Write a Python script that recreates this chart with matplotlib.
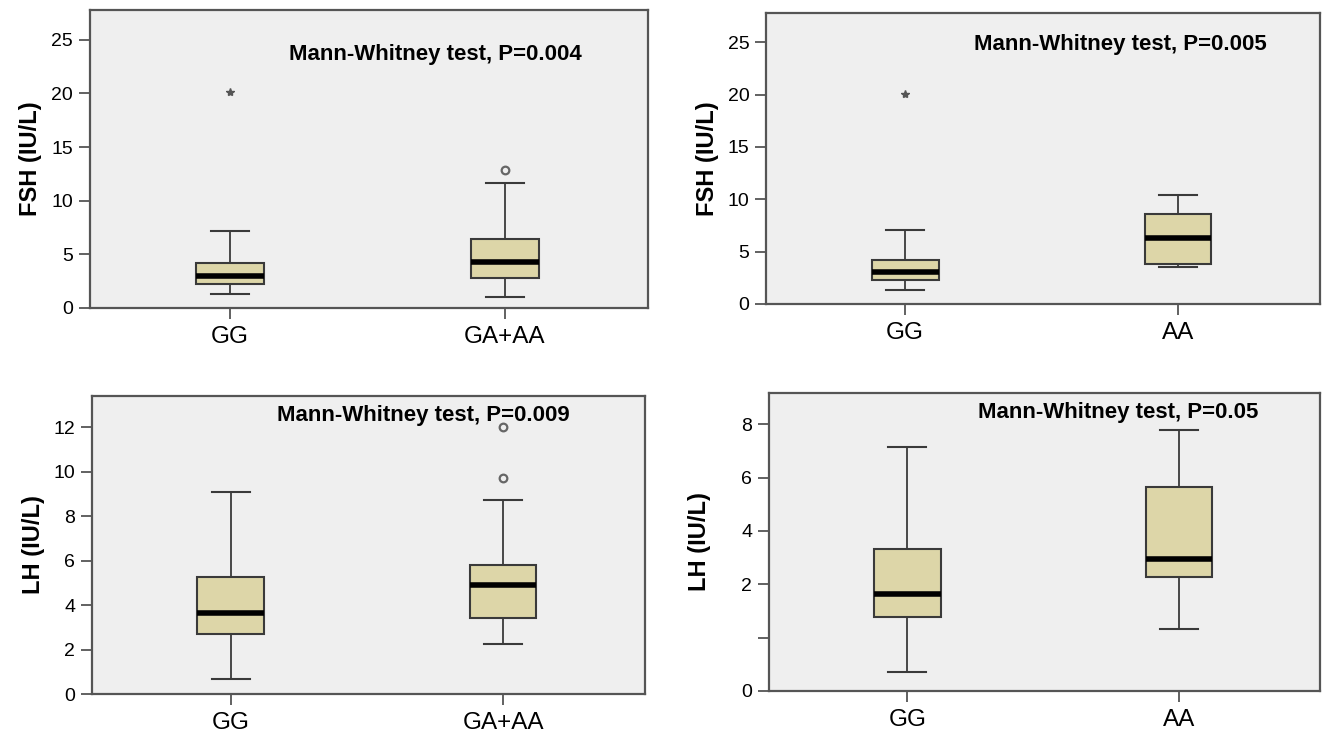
import numpy as np
import matplotlib
matplotlib.use("Agg")
import matplotlib.pyplot as plt
from matplotlib import font_manager

# pick a narrow sans if there is one
names = {f.name for f in font_manager.fontManager.ttflist}
fam = 'Liberation Sans Narrow' if 'Liberation Sans Narrow' in names else 'Liberation Sans'
plt.rcParams['font.family'] = [fam, 'DejaVu Sans']

# ---- data ----
fsh1_groups = ['GG', 'GA+AA']
fsh1_whislo = [1.3, 1.0]
fsh1_q1 = [2.2, 2.8]
fsh1_med = [3.0, 4.3]
fsh1_q3 = [4.2, 6.45]
fsh1_whishi = [7.2, 11.6]
fsh1_stars = [[20.1], []]
fsh1_circles = [[], [12.9]]

fsh2_groups = ['GG', 'AA']
fsh2_whislo = [1.3, 3.55]
fsh2_q1 = [2.25, 3.8]
fsh2_med = [3.1, 6.3]
fsh2_q3 = [4.2, 8.6]
fsh2_whishi = [7.1, 10.4]
fsh2_stars = [[20.1], []]
fsh2_circles = [[], []]

lh1_groups = ['GG', 'GA+AA']
lh1_whislo = [0.69, 2.24]
lh1_q1 = [2.69, 3.41]
lh1_med = [3.62, 4.89]
lh1_q3 = [5.26, 5.81]
lh1_whishi = [9.09, 8.71]
lh1_stars = [[], []]
lh1_circles = [[], [9.72, 12.0]]

lh2_groups = ['GG', 'AA']
lh2_whislo = [0.35, 1.16]
lh2_q1 = [1.38, 2.26]
lh2_med = [1.81, 2.93]
lh2_q3 = [3.34, 5.66]
lh2_whishi = [7.14, 7.78]
lh2_stars = [[], []]
lh2_circles = [[], []]

pvals = ['0.004', '0.005', '0.009', '0.05']

BOX = '#ddd6a8'
BG = '#efefef'
EDGE = '#3a3a3a'

fig = plt.figure(figsize=(13.22, 7.33), dpi=100)


def panel(rect, groups, wl, q1, med, q3, wh, stars, circles, ylabel, pval, txt_xy):
    ax = fig.add_axes(rect)
    ax.set_facecolor(BG)
    stats = []
    for i, g in enumerate(groups):
        stats.append(dict(label=g, whislo=wl[i], q1=q1[i], med=med[i],
                          q3=q3[i], whishi=wh[i], fliers=[]))
    ax.bxp(stats, positions=[1, 2], widths=0.245, patch_artist=True,
           showfliers=False,
           boxprops=dict(facecolor=BOX, edgecolor=EDGE, linewidth=1.5),
           medianprops=dict(color='black', linewidth=4),
           whiskerprops=dict(color=EDGE, linewidth=1.3),
           capprops=dict(color=EDGE, linewidth=1.5),
           capwidths=0.14)
    for i in range(len(groups)):
        if stars[i]:
            ax.plot([i + 1] * len(stars[i]), stars[i], marker='*', ls='none',
                    ms=6, color='#555555', mec='#555555')
        if circles[i]:
            ax.plot([i + 1] * len(circles[i]), circles[i], marker='o', ls='none',
                    ms=5.5, mfc='none', mec='#666666', mew=1.6)
    ax.set_xlim(0.49, 2.52)
    ax.set_xticks([1, 2])
    ax.set_xticklabels(groups)
    for s in ax.spines.values():
        s.set_color('#555555')
        s.set_linewidth(1.6)
    ax.tick_params(axis='both', direction='out', length=8, width=1.3,
                   color='#555555', labelsize=14, pad=4)
    ax.tick_params(axis='x', pad=5, labelsize=17.5)
    ax.set_ylabel(ylabel, fontsize=17, fontweight='bold')
    ax.text(txt_xy[0], txt_xy[1], 'Mann-Whitney test, P=' + pval,
            transform=ax.transAxes, ha='center', va='center',
            fontsize=16, fontweight='bold')
    return ax


ax1 = panel([0.068, 0.580, 0.422, 0.4066], fsh1_groups, fsh1_whislo, fsh1_q1,
            fsh1_med, fsh1_q3, fsh1_whishi, fsh1_stars, fsh1_circles,
            'FSH (IU/L)', pvals[0], (0.62, 0.85))
ax1.set_ylim(0, 27.8)
ax1.set_yticks([0, 5, 10, 15, 20, 25])

ax2 = panel([0.5794, 0.5853, 0.419, 0.397], fsh2_groups, fsh2_whislo, fsh2_q1,
            fsh2_med, fsh2_q3, fsh2_whishi, fsh2_stars, fsh2_circles,
            'FSH (IU/L)', pvals[1], (0.64, 0.893))
ax2.set_ylim(0, 27.8)
ax2.set_yticks([0, 5, 10, 15, 20, 25])

ax3 = panel([0.0696, 0.0532, 0.418, 0.4066], lh1_groups, lh1_whislo, lh1_q1,
            lh1_med, lh1_q3, lh1_whishi, lh1_stars, lh1_circles,
            'LH (IU/L)', pvals[2], (0.60, 0.933))
ax3.set_ylim(0, 13.4)
ax3.set_yticks([0, 2, 4, 6, 8, 10, 12])


# bottom-right axis is stretched below 2 in the original
def fwd(x):
    x = np.asarray(x, dtype=float)
    return np.where(x < 2, 2 * x, x + 2)


def inv(t):
    t = np.asarray(t, dtype=float)
    return np.where(t < 4, t / 2, t - 2)


ax4 = panel([0.5817, 0.0573, 0.4168, 0.4066], lh2_groups, lh2_whislo, lh2_q1,
            lh2_med, lh2_q3, lh2_whishi, lh2_stars, lh2_circles,
            'LH (IU/L)', pvals[3], (0.633, 0.936))
ax4.set_yscale('function', functions=(fwd, inv))
ax4.set_ylim(0, 9.17)
ax4.set_yticks([0, 1, 2, 4, 6, 8])
ax4.set_yticklabels(['0', '', '2', '4', '6', '8'])
ax4.yaxis.set_minor_locator(matplotlib.ticker.NullLocator())

for ax in (ax1, ax2, ax3):
    ax.yaxis.set_label_coords(-0.085, 0.5)
ax4.yaxis.set_label_coords(-0.105, 0.5)

fig.savefig('out.png', dpi=100)
